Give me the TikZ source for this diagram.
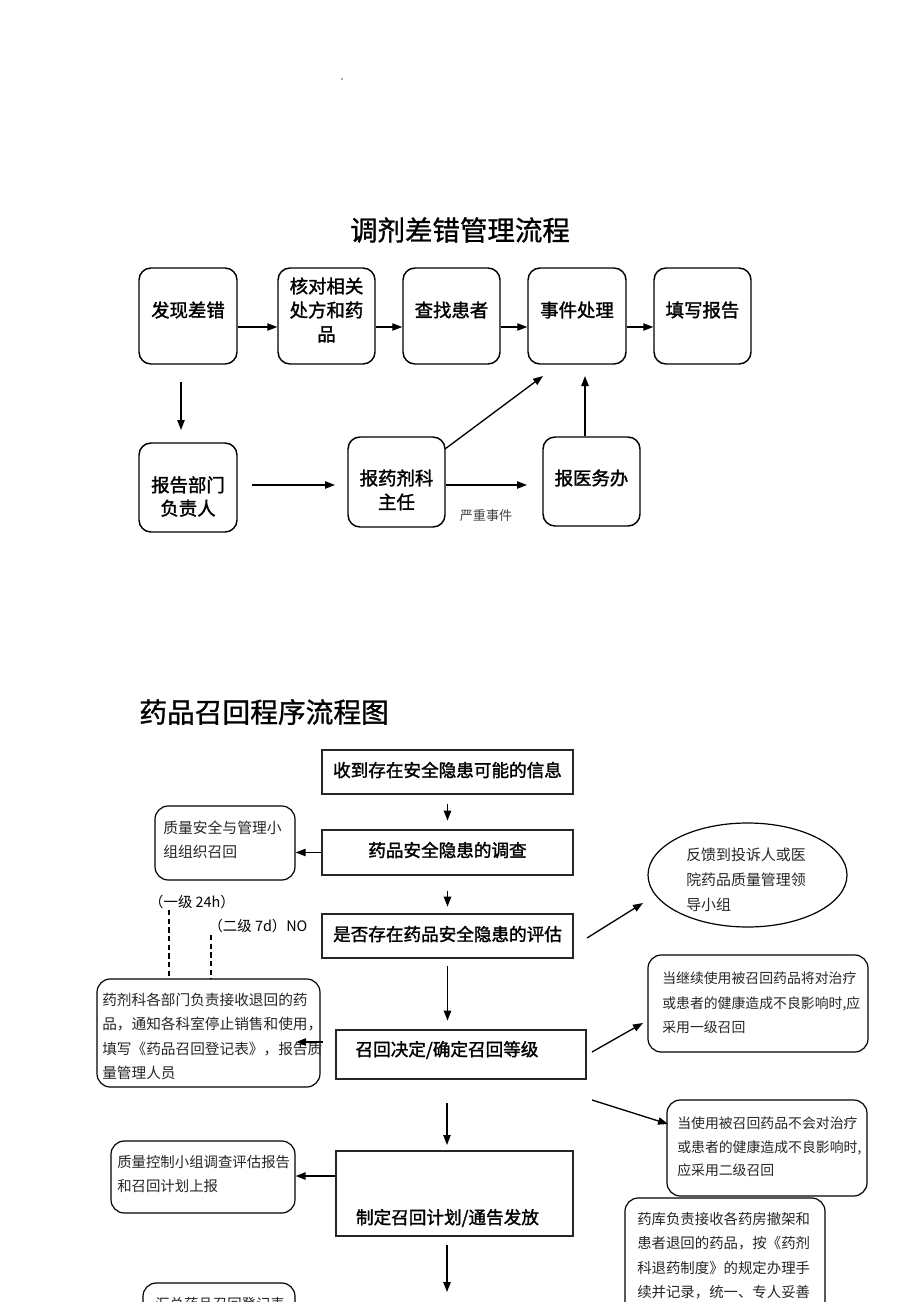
\documentclass[tikz,border=0pt]{standalone}
\usepackage{fontspec}
\newfontfamily\cjk{Noto Sans CJK SC}
\newfontfamily\cjkb[FakeBold=1.6]{Noto Sans CJK SC}
\newfontfamily\cjkt[FakeBold=1.0]{Noto Sans CJK SC}
\usetikzlibrary{arrows.meta,shapes.geometric,calc}
\begin{document}
\begin{tikzpicture}[x=0.75pt,y=-0.75pt,
  every node/.style={font=\cjk},
  tbox/.style={draw, line width=1.1pt, rounded corners=9pt, inner sep=0pt},
  ttxt/.style={font=\cjkb\fontsize{13.8}{18}\selectfont, align=center, inner sep=0pt},
  mtxt/.style={font=\cjkb\fontsize{13.2}{16}\selectfont, inner sep=0pt},
  stxt/.style={font=\cjk\fontsize{10.8}{18.4}\selectfont, align=left, text=black!85, inner sep=0pt, anchor=west},
  arr/.style={-{Triangle[length=7.5pt,width=5.5pt]}, line width=1pt},
  rbox/.style={draw=black!85, line width=1pt, inner sep=0pt},
  sbox/.style={draw, line width=0.9pt, rounded corners=10pt, inner sep=0pt},
  dsh/.style={draw, line width=0.8pt, dash pattern=on 4pt off 2.5pt}
]
\useasboundingbox[fill=white] (0,0) rectangle (920,1302);
\fill[black!70] (342,79) circle (0.6pt);

% ---------- Part 1 ----------
\node[font=\cjkt\fontsize{20.6}{24}\selectfont, inner sep=0pt] (t1) at (460,230) {调剂差错管理流程};

\node[tbox, minimum width={98*0.75pt}, minimum height={96*0.75pt}] (b1) at (188,316) {};
\node[tbox, minimum width={97*0.75pt}, minimum height={96*0.75pt}] (b2) at (326.5,316) {};
\node[tbox, minimum width={97*0.75pt}, minimum height={96*0.75pt}] (b3) at (451.5,316) {};
\node[tbox, minimum width={98*0.75pt}, minimum height={96*0.75pt}] (b4) at (577,316) {};
\node[tbox, minimum width={97*0.75pt}, minimum height={96*0.75pt}] (b5) at (702.5,316) {};
\node[ttxt] (b1t) at (188,310) {发现差错};
\node[ttxt] (b2t) at (326.5,310) {核对相关\\处方和药\\品};
\node[ttxt] (b3t) at (451.5,310) {查找患者};
\node[ttxt] (b4t) at (577,310) {事件处理};
\node[ttxt] (b5t) at (702.5,310) {填写报告};

\draw[arr] (b1.east |- 0,327) -- (b2.west |- 0,327);
\draw[arr] (b2.east |- 0,327) -- (b3.west |- 0,327);
\draw[arr] (b3.east |- 0,327) -- (b4.west |- 0,327);
\draw[arr] (b4.east |- 0,327) -- (b5.west |- 0,327);

\node[tbox, minimum width={98*0.75pt}, minimum height={89*0.75pt}] (c1) at (188,487.5) {};
\node[tbox, minimum width={97*0.75pt}, minimum height={90*0.75pt}] (c2) at (396.5,482) {};
\node[tbox, minimum width={97*0.75pt}, minimum height={89*0.75pt}] (c3) at (591.5,481.5) {};
\node[ttxt, font=\cjkb\fontsize{13.8}{17.5}\selectfont] (c1t) at (188,496.5) {报告部门\\负责人};
\node[ttxt] (c2t) at (396.5,490) {报药剂科\\主任};
\node[ttxt] (c3t) at (591.5,478) {报医务办};

\coordinate (d1s) at (181,382);
\coordinate (d1e) at (181,430);
\draw[arr] (d1s) -- (d1e);
\coordinate (h1s) at (252,485);
\coordinate (h1e) at (335,485);
\draw[arr] (h1s) -- (h1e);
\coordinate (h2e) at (527,485);
\draw[arr] (c2.east |- h2e) -- (h2e);
\coordinate (g1s) at (445,449);
\coordinate (g1e) at (543,376);
\draw[arr] (g1s) -- (g1e);
\coordinate (v1e) at (585,376);
\draw[arr] (c3.north -| v1e) -- (v1e);
\node[font=\cjk\fontsize{9.8}{11}\selectfont, text=black!75, inner sep=0pt] (sev) at (486,516) {严重事件};

% ---------- Part 2 ----------
\node[anchor=west, font=\cjkt\fontsize{20.8}{24}\selectfont, inner sep=0pt] (t2) at (139,712) {药品召回程序流程图};

\node[rbox, minimum width={251*0.75pt}, minimum height={44*0.75pt}] (B1) at (447.5,772) {};
\node[mtxt] (B1t) at (447.5,770) {收到存在安全隐患可能的信息};
\node[rbox, minimum width={251*0.75pt}, minimum height={45*0.75pt}] (B2) at (447.5,852.5) {};
\node[mtxt] (B2t) at (447.5,850) {药品安全隐患的调查};
\node[rbox, minimum width={251*0.75pt}, minimum height={44*0.75pt}] (B3) at (447.5,936) {};
\node[mtxt] (B3t) at (447.5,934) {是否存在药品安全隐患的评估};
\node[rbox, minimum width={250*0.75pt}, minimum height={49*0.75pt}] (B4) at (461,1054.5) {};
\node[mtxt] (B4t) at (447,1050) {召回决定/确定召回等级};
\node[rbox, minimum width={237*0.75pt}, minimum height={85*0.75pt}] (B5) at (454.5,1193.5) {};
\node[mtxt] (B5t) at (447.5,1218) {制定召回计划/通告发放};

\draw[arr] ($(B1.south)+(0,9)$) -- ($(B1.south)+(0,26)$);
\draw[arr] ($(B2.south)+(0,15)$) -- ($(B2.south)+(0,31)$);
\draw[arr] ($(B3.south)+(0,7)$) -- ($(B3.south)+(0,62)$);
\coordinate (a4s) at (447,1103);
\coordinate (a4e) at (447,1145);
\draw[arr] (a4s) -- (a4e);
\coordinate (a5s) at (447,1245);
\coordinate (a5e) at (447,1292);
\draw[arr] (a5s) -- (a5e);

% left boxes
\node[sbox, minimum width={140*0.75pt}, minimum height={74*0.75pt}] (L1) at (225,843) {};
\node[stxt, font=\cjk\fontsize{11.1}{18.4}\selectfont] (L1t) at (163,840) {质量安全与管理小\\组组织召回};
\draw[arr] (B2.west) -- (L1.east |- B2.west);

\node[font=\cjk\fontsize{10.8}{12}\selectfont, inner sep=0pt] (lab1) at (192,902) {（一级 24h）};
\node[font=\cjk\fontsize{10.8}{12}\selectfont, inner sep=0pt] (lab2) at (258,926) {（二级 7d）NO};

\node[sbox, minimum width={223*0.75pt}, minimum height={108*0.75pt}] (L2) at (208.5,1033) {};
\node[stxt, font=\cjk\fontsize{11}{18.4}\selectfont] (L2t) at (102,1036.5) {药剂科各部门负责接收退回的药\\品，通知各科室停止销售和使用，\\填写《药品召回登记表》，报告质\\量管理人员};

\coordinate (dv1) at (169,910);
\coordinate (dv2) at (211,935);
\draw[dsh] (dv1) -- (dv1 |- L2.north);
\draw[dsh] (dv2) -- (dv2 |- L2.north);

\coordinate (a6s) at (323,1042);
\coordinate (a6e) at (296,1042);
\draw[arr] (a6s) -- (a6e);

\node[sbox, minimum width={184*0.75pt}, minimum height={72*0.75pt}] (L3) at (203,1177) {};
\node[stxt] (L3t) at (117,1174) {质量控制小组调查评估报告\\和召回计划上报};
\draw[arr] (B5.west |- 0,1176) -- (L3.east |- 0,1176);

\node[sbox, minimum width={152*0.75pt}, minimum height={80*0.75pt}] (L4) at (219,1323) {};
\node[stxt] (L4t) at (155,1304) {汇总药品召回登记表};

% right side
\node[draw, ellipse, line width=0.9pt, minimum width={199*0.75pt}, minimum height={104*0.75pt}, inner sep=0pt] (E) at (747.5,875) {};
\node[stxt, font=\cjk\fontsize{11.2}{18.8}\selectfont] (Et) at (686,880) {反馈到投诉人或医\\院药品质量管理领\\导小组};
\coordinate (a7s) at (587,938);
\coordinate (a7e) at (643,903);
\draw[arr] (a7s) -- (a7e);

\node[sbox, minimum width={220*0.75pt}, minimum height={97*0.75pt}] (R1) at (758,1003.5) {};
\node[stxt, font=\cjk\fontsize{10.4}{18.4}\selectfont] (R1t) at (662,1003) {当继续使用被召回药品将对治疗\\或患者的健康造成不良影响时,应\\采用一级召回};
\coordinate (a8s) at (592,1052);
\coordinate (a8e) at (643,1023);
\draw[arr] (a8s) -- (a8e);

\node[sbox, minimum width={200*0.75pt}, minimum height={96*0.75pt}] (R2) at (767,1148) {};
\node[stxt, font=\cjk\fontsize{10.4}{17.6}\selectfont] (R2t) at (677,1147) {当使用被召回药品不会对治疗\\或患者的健康造成不良影响时,\\应采用二级召回};
\coordinate (a9s) at (592,1100);
\coordinate (a9e) at (668,1124);
\draw[arr] (a9s) -- (a9e);

\node[sbox, minimum width={200*0.75pt}, minimum height={130*0.75pt}] (R3) at (725,1263) {};
\node[stxt] (R3t) at (637,1255.5) {药库负责接收各药房撤架和\\患者退回的药品，按《药剂\\科退药制度》的规定办理手\\续并记录，统一、专人妥善};
\end{tikzpicture}
\end{document}
